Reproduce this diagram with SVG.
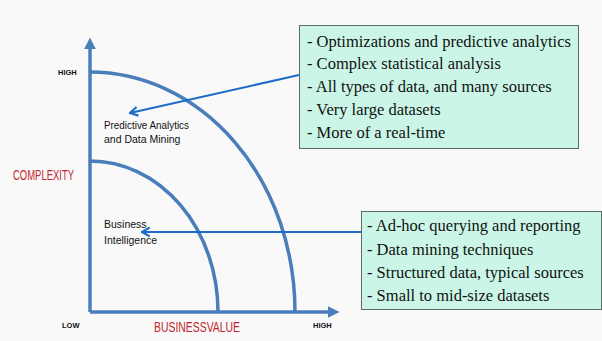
<svg xmlns="http://www.w3.org/2000/svg" width="602" height="341" viewBox="0 0 602 341">
<style>
.axis{stroke:#4a7ebb;stroke-width:3.5;fill:none}
.arc{stroke:#4a7ebb;stroke-width:3.5;fill:none}
.conn{stroke:#1c6cc8;stroke-width:2;fill:none}
.box{fill:#cbf6e7;stroke:#5c6b6b;stroke-width:1}
.bt{font-family:"Liberation Serif",serif;font-size:16.5px;fill:#111}
.lbl{font-family:"Liberation Sans",sans-serif;font-size:10.5px;fill:#111}
.red{font-family:"Liberation Sans",sans-serif;font-size:14px;fill:#c1272d}
.sm{font-family:"Liberation Sans",sans-serif;font-size:7.5px;font-weight:bold;fill:#111}
</style>
<defs>
<marker id="ah" viewBox="0 0 10 10" refX="2" refY="5" markerWidth="12" markerHeight="12" orient="auto" markerUnits="userSpaceOnUse">
<path d="M0,0 L10,5 L0,10 z" fill="#4a7ebb"/>
</marker>
<marker id="ca" viewBox="0 0 10 10" refX="9" refY="5" markerWidth="11" markerHeight="11" orient="auto-start-reverse" markerUnits="userSpaceOnUse">
<path d="M2,1 L9,5 L2,9" fill="none" stroke="#1c6cc8" stroke-width="2"/>
</marker>
</defs>
<rect width="602" height="341" fill="#f9f9f9"/>
<g id="axes">
<path class="axis" d="M90,312 L90,47" marker-end="url(#ah)"/>
<path class="axis" d="M90,312 L330,312" marker-end="url(#ah)"/>
<text class="sm" x="58" y="75">HIGH</text>
<text class="sm" x="62" y="328">LOW</text>
<text class="sm" x="313" y="328">HIGH</text>
<text class="red" x="13" y="180" textLength="61" lengthAdjust="spacingAndGlyphs">COMPLEXITY</text>
<text class="red" x="154" y="332" textLength="86" lengthAdjust="spacingAndGlyphs">BUSINESSVALUE</text>
</g>
<g id="outer-arc">
<path class="arc" d="M90,72 A205,240 0 0 1 295,312"/>
</g>
<g id="inner-arc">
<path class="arc" d="M90,161 A128,151 0 0 1 218,312"/>
</g>
<g id="predictive">
<text class="lbl" x="104" y="129" textLength="85" lengthAdjust="spacingAndGlyphs">Predictive Analytics</text>
<text class="lbl" x="104" y="143">and Data Mining</text>
</g>
<g id="bi">
<text class="lbl" x="104" y="228">Business</text>
<text class="lbl" x="104" y="244">Intelligence</text>
</g>
<g id="box1">
<rect class="box" x="299.5" y="25.5" width="279" height="123"/>
<text class="bt" x="307" y="47">- Optimizations and predictive analytics</text>
<text class="bt" x="307" y="69">- Complex statistical analysis</text>
<text class="bt" x="307" y="92">- All types of data, and many sources</text>
<text class="bt" x="307" y="115">- Very large datasets</text>
<text class="bt" x="307" y="138">- More of a real-time</text>
</g>
<g id="box2">
<rect class="box" x="361.5" y="211.5" width="240" height="98"/>
<text class="bt" x="367" y="231">- Ad-hoc querying and reporting</text>
<text class="bt" x="367" y="255">- Data mining techniques</text>
<text class="bt" x="367" y="278">- Structured data, typical sources</text>
<text class="bt" x="367" y="301">- Small to mid-size datasets</text>
</g>
<g id="connectors">
<path class="conn" d="M130,113 L299,75" marker-start="url(#ca)"/>
<path class="conn" d="M142,232 L361,232" marker-start="url(#ca)"/>
</g>
</svg>
